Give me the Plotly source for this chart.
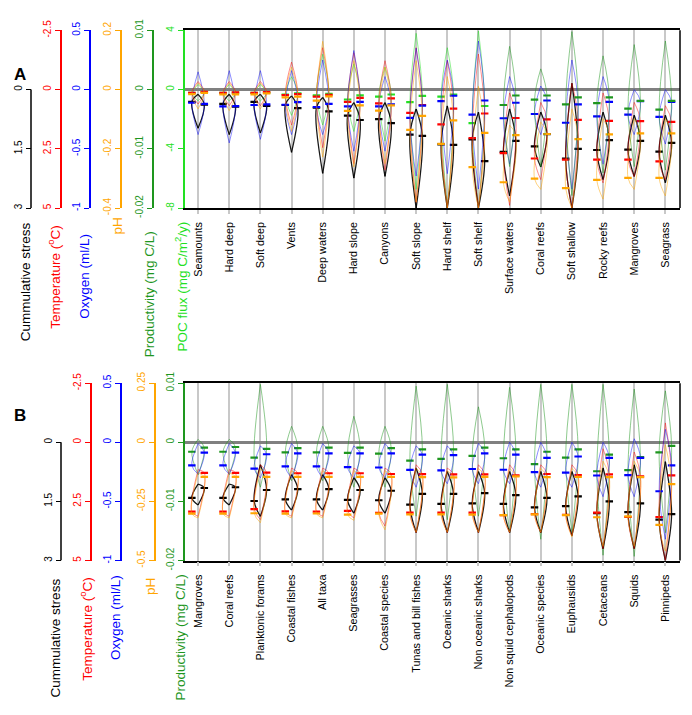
import plotly.graph_objects as go

FONT = "Liberation Sans, Arial, sans-serif"

# ---------------- panel A: habitats ----------------
habitats = ["Seamounts", "Hard deep", "Soft deep", "Vents", "Deep waters", "Hard slope",
            "Canyons", "Soft slope", "Hard shelf", "Soft shelf", "Surface waters",
            "Coral reefs", "Soft shallow", "Rocky reefs", "Mangroves", "Seagrass"]

# medians (left / right half) and range of each bean
stress_a_l = [0.31, 0.36, 0.31, 0.39, 0.46, 0.66, 0.75, 1.14, 1.39, 1.26, 1.58, 1.44, 1.75, 1.53, 1.52, 1.57]
stress_a_r = [0.38, 0.43, 0.41, 0.47, 0.55, 0.77, 0.85, 1.17, 1.40, 1.81, 1.30, 1.13, 1.50, 1.28, 1.30, 1.35]
stress_a_lo = [0.12, 0.12, 0.12, 0.16, 0.20, 0.33, 0.33, 0.49, 0.41, 0.57, 0.49, 0.57, -0.16, 0.57, 0.65, 0.65]
stress_a_hi = [0.98, 1.14, 1.10, 1.59, 2.12, 2.24, 2.20, 3.0, 3.0, 3.0, 2.69, 1.96, 3.0, 2.28, 2.20, 2.36]

temp_a_l = [0.14, 0.14, 0.14, 0.23, 0.30, 0.52, 0.58, 0.98, 1.47, 2.05, 2.68, 2.91, 2.96, 2.96, 2.96, 3.03]
temp_a_r = [0.10, 0.12, 0.11, 0.19, 0.22, 0.35, 0.37, 0.65, 0.80, 1.01, 1.20, 1.26, 1.28, 1.32, 1.33, 1.36]
temp_a_lo = [-0.34, -0.34, -0.34, -1.16, -1.77, -1.56, -1.22, -1.77, -1.22, -1.50, 0.14, 0.54, -0.27, 0.14, 0.54, 0.68]
temp_a_hi = [0.61, 0.68, 0.68, 1.50, 2.45, 3.13, 3.40, 4.76, 5.0, 5.0, 4.89, 3.80, 5.0, 3.94, 3.67, 3.80]

oxy_a_l = [-0.111, -0.141, -0.130, -0.128, -0.147, -0.141, -0.141, -0.239, -0.098, -0.212, -0.242, -0.206, -0.280, -0.226, -0.212, -0.231]
oxy_a_r = [-0.120, -0.139, -0.125, -0.106, -0.120, -0.103, -0.125, -0.136, -0.052, -0.092, -0.111, -0.092, -0.125, -0.103, -0.098, -0.103]
oxy_a_lo = [-0.38, -0.45, -0.42, -0.38, -0.38, -0.52, -0.52, -0.73, -0.71, -0.84, -0.63, -0.38, -0.84, -0.63, -0.38, -0.46]
oxy_a_hi = [0.15, 0.16, 0.16, 0.16, 0.25, 0.33, 0.11, 0.35, 0.25, 0.41, 0.11, 0.03, 0.25, 0.11, 0.0, 0.0]

ph_a_l = [-0.015, -0.016, -0.016, -0.026, -0.037, -0.072, -0.071, -0.136, -0.183, -0.262, -0.313, -0.301, -0.333, -0.305, -0.298, -0.298]
ph_a_r = [-0.011, -0.016, -0.013, -0.024, -0.023, -0.053, -0.053, -0.089, -0.104, -0.146, -0.154, -0.150, -0.167, -0.151, -0.148, -0.148]
ph_a_lo = [-0.065, -0.071, -0.065, -0.141, -0.228, -0.261, -0.250, -0.380, -0.4, -0.4, -0.380, -0.337, -0.4, -0.370, -0.337, -0.359]
ph_a_hi = [0.022, 0.022, 0.022, 0.076, 0.163, 0.098, 0.076, 0.098, 0.044, 0.011, -0.120, -0.109, -0.065, -0.098, -0.098, -0.098]

prod_a_l = [None] * 10 + [-0.0026, -0.0017, -0.0025, -0.0023, -0.0032, -0.0034]
prod_a_r = [None] * 10 + [-0.0010, -0.0010, -0.0013, -0.0013, -0.0019, -0.0019]
prod_a_lo = [None] * 10 + [-0.0130, -0.0130, -0.0179, -0.0141, -0.0130, -0.0136]
prod_a_hi = [None] * 10 + [0.0073, 0.0035, 0.0098, 0.0057, 0.0076, 0.0082]

poc_a_l = [-0.22, -0.22, -0.22, -0.33, -0.39, -0.67, -0.48, -0.85, -0.48, -2.26] + [None] * 6
poc_a_r = [-0.17, -0.20, -0.20, -0.26, -0.28, -0.39, -0.33, -0.43, -0.33, -1.11] + [None] * 6
poc_a_lo = [-0.76, -0.76, -0.76, -1.74, -2.39, -2.83, -3.48, -6.74, -8.0, -8.0] + [None] * 6
poc_a_hi = [0.33, 0.33, 0.33, 0.87, 2.39, 1.74, 1.52, 3.80, 2.83, 3.96] + [None] * 6

# ---------------- panel B: taxa ----------------
taxa = ["Mangroves", "Coral reefs", "Planktonic forams", "Coastal fishes", "All taxa",
        "Seagrasses", "Coastal species", "Tunas and bill fishes", "Oceanic sharks",
        "Non oceanic sharks", "Non squid cephalopods", "Oceanic species", "Euphausiids",
        "Cetaceans", "Squids", "Pinnipeds"]

stress_b_l = [1.41, 1.41, 1.49, 1.45, 1.45, 1.46, 1.47, 1.58, 1.56, 1.55, 1.56, 1.65, 1.62, 1.80, 1.77, 1.96]
stress_b_r = [1.16, 1.14, 1.21, 1.19, 1.19, 1.21, 1.23, 1.31, 1.31, 1.29, 1.34, 1.41, 1.37, 1.50, 1.55, 1.82]
stress_b_lo = [1.06, 1.06, 0.57, 0.82, 0.82, 0.90, 0.90, 0.65, 0.74, 0.74, 0.74, 0.74, 0.74, 0.65, 0.57, 0.49]
stress_b_hi = [1.59, 1.59, 1.88, 1.72, 1.72, 1.80, 1.80, 2.29, 2.29, 2.29, 2.29, 2.29, 2.37, 2.70, 2.70, 3.0]

temp_b_l = [2.93, 2.93, 2.83, 2.92, 2.93, 2.90, 2.98, 2.97, 2.97, 2.97, 3.08, 3.04, 3.07, 2.97, 3.16, 3.16]
temp_b_r = [1.29, 1.29, 1.28, 1.31, 1.31, 1.31, 1.34, 1.35, 1.36, 1.36, 1.40, 1.34, 1.39, 1.36, 1.44, 1.40]
temp_b_lo = [1.16, 1.16, 0.95, 1.09, 1.09, 1.09, 1.09, 0.95, 1.09, 0.95, 0.95, 0.95, 0.95, 0.27, 0.41, -0.82]
temp_b_hi = [3.13, 3.13, 3.27, 3.13, 3.13, 3.20, 3.54, 3.82, 3.82, 3.82, 3.82, 3.82, 3.95, 4.50, 4.50, 5.0]

oxy_b_l = [-0.196, -0.196, -0.223, -0.204, -0.204, -0.210, -0.213, -0.234, -0.237, -0.226, -0.232, -0.253, -0.256, -0.281, -0.278, -0.414]
oxy_b_r = [-0.087, -0.087, -0.101, -0.093, -0.093, -0.093, -0.093, -0.104, -0.109, -0.093, -0.104, -0.131, -0.120, -0.131, -0.131, -0.196]
oxy_b_lo = [-0.27, -0.27, -0.30, -0.30, -0.30, -0.30, -0.30, -0.38, -0.35, -0.35, -0.35, -0.38, -0.38, -0.46, -0.46, -0.82]
oxy_b_hi = [-0.01, -0.01, -0.03, -0.01, -0.01, -0.03, -0.01, -0.03, -0.03, -0.01, 0.0, 0.0, 0.0, 0.0, 0.03, 0.11]

ph_b_l = [-0.302, -0.302, -0.300, -0.302, -0.301, -0.306, -0.302, -0.305, -0.305, -0.306, -0.308, -0.305, -0.308, -0.317, -0.313, -0.349]
ph_b_r = [-0.146, -0.146, -0.146, -0.146, -0.146, -0.146, -0.146, -0.147, -0.148, -0.146, -0.144, -0.147, -0.146, -0.147, -0.147, -0.177]
ph_b_lo = [-0.32, -0.32, -0.34, -0.32, -0.32, -0.33, -0.37, -0.38, -0.38, -0.38, -0.38, -0.38, -0.40, -0.44, -0.44, -0.46]
ph_b_hi = [-0.13, -0.13, -0.11, -0.12, -0.12, -0.12, -0.12, -0.11, -0.12, -0.11, -0.11, -0.11, -0.11, -0.08, -0.08, -0.01]

prod_b_l = [-0.0016, -0.0016, -0.0026, -0.0017, -0.0017, -0.0018, -0.0019, -0.0031, -0.0028, -0.0023, -0.0027, -0.0037, -0.0026, -0.0049, -0.0047, -0.0017]
prod_b_r = [-0.0009, -0.0008, -0.0011, -0.0010, -0.0009, -0.0009, -0.0010, -0.0012, -0.0012, -0.0009, -0.0012, -0.0016, -0.0012, -0.0021, -0.0025, -0.0006]
prod_b_lo = [-0.0055, -0.0055, -0.0076, -0.0065, -0.0065, -0.0076, -0.0076, -0.0125, -0.0131, -0.0125, -0.0153, -0.0164, -0.0153, -0.0191, -0.0193, -0.0153]
prod_b_hi = [0.0005, 0.0005, 0.0098, 0.0027, 0.0027, 0.0044, 0.0027, 0.0095, 0.0098, 0.0060, 0.0093, 0.0098, 0.0098, 0.0098, 0.0090, 0.0087]

# colours
C_STRESS = "#000000"
C_TEMP = "#FF0000"
C_OXY = "#0000FF"
C_PH = "#FFA500"
C_PROD = "#1E961E"
C_POC = "#22E022"


def bean_lines(lo, hi, med_l, med_r, w=0.2):
    # half beans: outline through max, median and min, smoothed by a spline
    xs, ys = [], []
    for i in range(len(lo)):
        if med_l[i] is None:
            continue
        c = i + 1
        for side, m in ((-1, med_l[i]), (1, med_r[i])):
            xs += [c, c + side * w, c, None]
            ys += [hi[i], m, lo[i], None]
    return xs, ys


def median_ticks(med_l, med_r):
    xs, ys = [], []
    for i in range(len(med_l)):
        if med_l[i] is None:
            continue
        c = i + 1
        xs += [c - 0.32, c - 0.08, None, c + 0.08, c + 0.32, None]
        ys += [med_l[i], med_l[i], None, med_r[i], med_r[i], None]
    return xs, ys


def curve_rgba(hex_col, a):
    h = hex_col.lstrip("#")
    return "rgba(%d,%d,%d,%s)" % (int(h[0:2], 16), int(h[2:4], 16), int(h[4:6], 16), a)


fig = go.Figure()

panel_a = [
    ("y", poc_a_lo, poc_a_hi, poc_a_l, poc_a_r, C_POC, 0.5, 1.0),
    ("y6", prod_a_lo, prod_a_hi, prod_a_l, prod_a_r, C_PROD, 0.5, 1.0),
    ("y5", ph_a_lo, ph_a_hi, ph_a_l, ph_a_r, C_PH, 0.5, 1.0),
    ("y3", temp_a_lo, temp_a_hi, temp_a_l, temp_a_r, C_TEMP, 0.45, 1.0),
    ("y4", oxy_a_lo, oxy_a_hi, oxy_a_l, oxy_a_r, C_OXY, 0.45, 1.0),
    ("y2", stress_a_lo, stress_a_hi, stress_a_l, stress_a_r, C_STRESS, 0.9, 1.3),
]
panel_b = [
    ("y7", prod_b_lo, prod_b_hi, prod_b_l, prod_b_r, C_PROD, 0.5, 1.0),
    ("y11", ph_b_lo, ph_b_hi, ph_b_l, ph_b_r, C_PH, 0.5, 1.0),
    ("y9", temp_b_lo, temp_b_hi, temp_b_l, temp_b_r, C_TEMP, 0.45, 1.0),
    ("y10", oxy_b_lo, oxy_b_hi, oxy_b_l, oxy_b_r, C_OXY, 0.45, 1.0),
    ("y8", stress_b_lo, stress_b_hi, stress_b_l, stress_b_r, C_STRESS, 0.9, 1.3),
]

for xref, panel in (("x", panel_a), ("x2", panel_b)):
    for yref, lo, hi, ml, mr, col, alpha, lw in panel:
        bx, by = bean_lines(lo, hi, ml, mr)
        fig.add_trace(go.Scatter(x=bx, y=by, xaxis=xref, yaxis=yref, mode="lines",
                                 line=dict(color=curve_rgba(col, alpha), width=lw,
                                           shape="spline", smoothing=1.0),
                                 showlegend=False, hoverinfo="skip"))
    for yref, lo, hi, ml, mr, col, alpha, lw in panel:
        mx, my = median_ticks(ml, mr)
        fig.add_trace(go.Scatter(x=mx, y=my, xaxis=xref, yaxis=yref, mode="lines",
                                 line=dict(color=col, width=2.2),
                                 showlegend=False, hoverinfo="skip"))

# layout geometry (paper coordinates, figure 692 x 715)
XDOM = [177 / 692, 672 / 692]
DOM_A = [1 - 194 / 715, 1 - 10.7 / 715]
DOM_B = [1 - 557.7 / 715, 1 - 374.7 / 715]
XRANGE = [0.58, 16.47]

tickf = dict(family=FONT, size=10)


def xaxis(cats, anchor):
    return dict(domain=XDOM, range=XRANGE, anchor=anchor,
                tickmode="array", tickvals=list(range(1, len(cats) + 1)), ticktext=cats,
                tickangle=-90, tickfont=dict(family=FONT, size=10.8, color="black"),
                ticks="outside", ticklen=4, tickcolor="#C8C8C8", tickwidth=1.5,
                ticklabelstandoff=4,
                showgrid=True, gridcolor="#C8C8C8", gridwidth=1.5, zeroline=False,
                showline=True, linecolor="black", linewidth=1.5, mirror=True)


def yaxis(rng, vals, texts, color, dom, anchor=None, overlay=None, pos=None, line=True):
    d = dict(range=rng, domain=dom, tickmode="array", tickvals=vals, ticktext=texts,
             tickangle=-90, tickfont=dict(tickf, color=color), color=color,
             ticks="outside", ticklen=5, tickcolor=color, tickwidth=1.2,
             showline=line, linecolor=color, linewidth=1.5, showgrid=False, zeroline=False)
    if overlay:
        d.update(overlaying=overlay, anchor="free", position=pos, side="left")
    else:
        d.update(anchor=anchor, zeroline=True, zerolinecolor="#808080", zerolinewidth=2.5)
    return d


fig.update_layout(
    width=692, height=715,
    margin=dict(l=0, r=0, t=0, b=0),
    paper_bgcolor="white", plot_bgcolor="white",
    font=dict(family=FONT),
    xaxis=xaxis(habitats, "y"),
    xaxis2=xaxis(taxa, "y7"),
    yaxis=yaxis([-8, 4], [-8, -4, 0, 4], ["-8", "-4", "0", "4"], C_POC, DOM_A, anchor="x"),
    yaxis2=yaxis([3, -1.5], [0, 1.5, 3], ["0", "1.5", "3"], C_STRESS, DOM_A,
                 overlay="y", pos=23 / 692, line=False),
    yaxis3=yaxis([5, -2.5], [-2.5, 0, 2.5, 5], ["-2.5", "0", "2.5", "5"], C_TEMP, DOM_A,
                 overlay="y", pos=53 / 692),
    yaxis4=yaxis([-1, 0.5], [-1, -0.5, 0, 0.5], ["-1", "-0.5", "0", "0.5"], C_OXY, DOM_A,
                 overlay="y", pos=82 / 692),
    yaxis5=yaxis([-0.4, 0.2], [-0.4, -0.2, 0, 0.2], ["-0.4", "-0.2", "0", "0.2"], C_PH, DOM_A,
                 overlay="y", pos=113 / 692),
    yaxis6=yaxis([-0.02, 0.01], [-0.02, -0.01, 0, 0.01], ["-0.02", "-0.01", "0", "0.01"], C_PROD, DOM_A,
                 overlay="y", pos=145 / 692),
    yaxis7=yaxis([-0.02, 0.01], [-0.02, -0.01, 0, 0.01], ["-0.02", "-0.01", "0", "0.01"], C_PROD, DOM_B,
                 anchor="x2"),
    yaxis8=yaxis([3, -1.5], [0, 1.5, 3], ["0", "1.5", "3"], C_STRESS, DOM_B,
                 overlay="y7", pos=53 / 692, line=False),
    yaxis9=yaxis([5, -2.5], [-2.5, 0, 2.5, 5], ["-2.5", "0", "2.5", "5"], C_TEMP, DOM_B,
                 overlay="y7", pos=83 / 692),
    yaxis10=yaxis([-1, 0.5], [-1, -0.5, 0, 0.5], ["-1", "-0.5", "0", "0.5"], C_OXY, DOM_B,
                  overlay="y7", pos=113 / 692),
    yaxis11=yaxis([-0.5, 0.25], [-0.5, -0.25, 0, 0.25], ["-0.5", "-0.25", "0", "0.25"], C_PH, DOM_B,
                  overlay="y7", pos=147 / 692),
)

# stress axis line only covers 0..3, right frame edge of each panel
shapes = [
    dict(type="line", xref="paper", yref="y2", x0=23 / 692, x1=23 / 692, y0=0, y1=3,
         line=dict(color="black", width=1.5)),
    dict(type="line", xref="paper", yref="y8", x0=53 / 692, x1=53 / 692, y0=0, y1=3,
         line=dict(color="black", width=1.5)),
    dict(type="line", xref="paper", yref="paper", x0=XDOM[1], x1=XDOM[1], y0=DOM_A[0], y1=DOM_A[1],
         line=dict(color="black", width=1.5)),
    dict(type="line", xref="paper", yref="paper", x0=XDOM[1], x1=XDOM[1], y0=DOM_B[0], y1=DOM_B[1],
         line=dict(color="black", width=1.5)),
]
fig.update_layout(shapes=shapes)

# axis titles, written vertically under each axis
titles = [
    ("Cummulative stress", 17.5, 270, C_STRESS),
    ("Temperature (<sup>o</sup>C)", 46, 265, C_TEMP),
    ("Oxygen (ml/L)", 77, 265, C_OXY),
    ("pH", 109, 213, C_PH),
    ("Productivity (mg C/L)", 141, 283, C_PROD),
    ("POC flux (mg C/m<sup>2</sup>/y)", 173, 275, C_POC),
    ("Cummulative stress", 47, 637, C_STRESS),
    ("Temperature (<sup>o</sup>C)", 78, 628, C_TEMP),
    ("Oxygen (ml/L)", 107, 617, C_OXY),
    ("pH", 142, 585, C_PH),
    ("Productivity (mg C/L)", 172, 637, C_PROD),
]
for txt, px, py, col in titles:
    fig.add_annotation(text=txt, x=px / 692, y=1 - py / 715, xref="paper", yref="paper",
                       textangle=-90, showarrow=False, xanchor="center", yanchor="middle",
                       font=dict(family=FONT, size=13.5, color=col))

for lab, py in (("A", 56), ("B", 408)):
    fig.add_annotation(text="<b>%s</b>" % lab, x=12 / 692, y=1 - py / 715, xref="paper", yref="paper",
                       showarrow=False, xanchor="center", yanchor="middle",
                       font=dict(family=FONT, size=17, color="black"))

fig.write_html("out.html")
